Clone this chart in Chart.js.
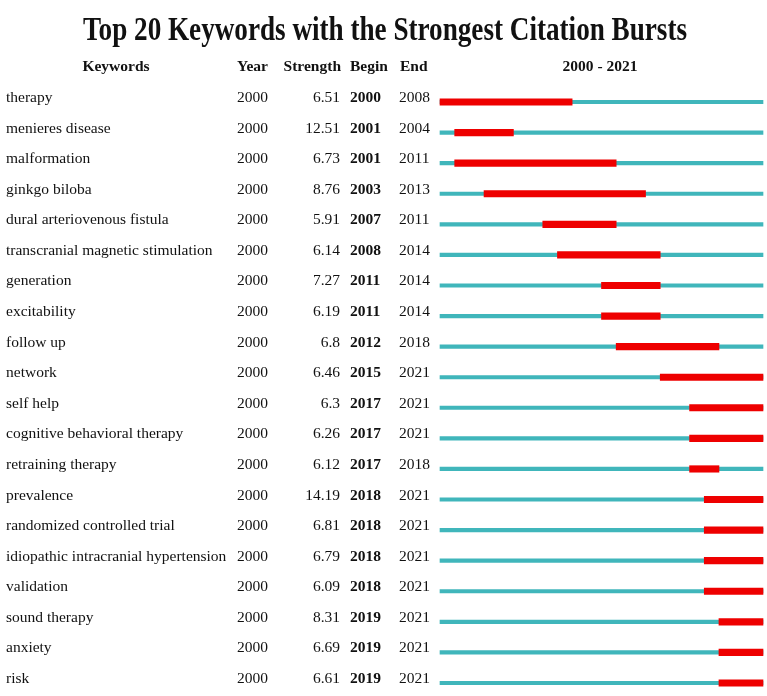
<!DOCTYPE html>
<html>
<head>
<meta charset="utf-8">
<title>Top 20 Keywords with the Strongest Citation Bursts</title>
<script src="https://cdn.jsdelivr.net/npm/chart.js@4.4.1/dist/chart.umd.min.js"></script>
<style>
    html, body { margin: 0; padding: 0; background: #fff; }
    #wrap { width: 767px; height: 696px; position: relative; }
</style>
</head>
<body>
<div id="wrap"><canvas id="burstChart"></canvas></div>
<script>
// burst table data
const keywords = [
    'therapy', 'menieres disease', 'malformation', 'ginkgo biloba',
    'dural arteriovenous fistula', 'transcranial magnetic stimulation',
    'generation', 'excitability', 'follow up', 'network', 'self help',
    'cognitive behavioral therapy', 'retraining therapy', 'prevalence',
    'randomized controlled trial', 'idiopathic intracranial hypertension',
    'validation', 'sound therapy', 'anxiety', 'risk'
];
const years = [2000, 2000, 2000, 2000, 2000, 2000, 2000, 2000, 2000, 2000,
               2000, 2000, 2000, 2000, 2000, 2000, 2000, 2000, 2000, 2000];
const strengths = ['6.51', '12.51', '6.73', '8.76', '5.91', '6.14', '7.27', '6.19', '6.8', '6.46',
                   '6.3', '6.26', '6.12', '14.19', '6.81', '6.79', '6.09', '8.31', '6.69', '6.61'];
const begins = [2000, 2001, 2001, 2003, 2007, 2008, 2011, 2011, 2012, 2015,
                2017, 2017, 2017, 2018, 2018, 2018, 2018, 2019, 2019, 2019];
const ends = [2008, 2004, 2011, 2013, 2011, 2014, 2014, 2014, 2018, 2021,
              2021, 2021, 2018, 2021, 2021, 2021, 2021, 2021, 2021, 2021];
const firstYear = 2000;
const lastYear = 2021;

const serif = '"Liberation Serif", "Times New Roman", serif';

// each year is one cell, so a burst runs to the end of its last year
const burstData = begins.map((b, i) => [b, ends[i] + 1]);
const spanData = keywords.map(() => [firstYear, lastYear + 1]);

// table text drawn next to the bars, lined up with the y scale
const tablePlugin = {
    id: 'tableText',
    afterDraw(chart) {
        const ctx = chart.ctx;
        const yScale = chart.scales.y;
        ctx.save();
        ctx.fillStyle = '#111';
        ctx.textBaseline = 'alphabetic';

        // title, condensed like the original
        const title = 'Top 20 Keywords with the Strongest Citation Bursts';
        ctx.font = 'bold 34px ' + serif;
        const tw = ctx.measureText(title).width;
        ctx.save();
        ctx.translate(385, 40);
        ctx.scale(604 / tw, 1);
        ctx.textAlign = 'center';
        ctx.fillText(title, 0, 0);
        ctx.restore();

        // header row
        ctx.font = 'bold 15.5px ' + serif;
        ctx.textAlign = 'center';
        ctx.fillText('Keywords', 116, 71);
        ctx.fillText(firstYear + ' - ' + lastYear, 600, 71);
        ctx.textAlign = 'left';
        ctx.fillText('Year', 237, 71);
        ctx.fillText('Begin', 350, 71);
        ctx.fillText('End', 400, 71);
        ctx.textAlign = 'right';
        ctx.fillText('Strength', 341, 71);

        keywords.forEach((kw, i) => {
            const y = yScale.getPixelForValue(i);
            ctx.font = '15.5px ' + serif;
            ctx.textAlign = 'left';
            ctx.fillText(kw, 6, y);
            ctx.fillText(String(years[i]), 237, y);
            ctx.fillText(String(ends[i]), 399, y);
            ctx.textAlign = 'right';
            ctx.fillText(strengths[i], 340, y);
            ctx.font = 'bold 15.5px ' + serif;
            ctx.textAlign = 'left';
            ctx.fillText(String(begins[i]), 350, y);
        });
        ctx.restore();
    }
};

new Chart(document.getElementById('burstChart'), {
    type: 'bar',
    data: {
        labels: keywords,
        datasets: [{
            label: 'Burst',
            data: burstData,
            backgroundColor: '#ee0000',
            barThickness: 6.5,
            grouped: false,
            clip: false
        }, {
            label: 'Span',
            data: spanData,
            backgroundColor: '#40b6bb',
            barThickness: 3.5,
            grouped: false,
            clip: false
        }]
    },
    options: {
        indexAxis: 'y',
        responsive: true,
        maintainAspectRatio: false,
        animation: false,
        layout: {
            padding: { left: 440, right: 4, top: 102, bottom: 13 }
        },
        scales: {
            x: {
                type: 'linear',
                min: firstYear,
                max: lastYear + 1,
                display: false
            },
            y: {
                type: 'category',
                offset: false,
                display: false
            }
        },
        plugins: {
            legend: { display: false },
            tooltip: { enabled: false }
        }
    },
    plugins: [tablePlugin]
});
</script>
</body>
</html>
